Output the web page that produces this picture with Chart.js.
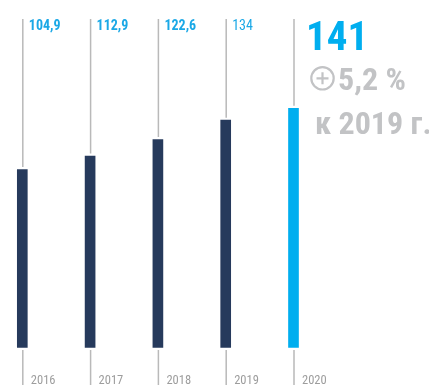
<!DOCTYPE html>
<html>
<head>
<meta charset="utf-8">
<script src="https://cdn.jsdelivr.net/npm/chart.js@4"></script>
<style>
  html, body { margin: 0; padding: 0; background: #fff; }
  #wrap { width: 429px; height: 385px; position: relative; }
</style>
</head>
<body>
<div id="wrap"><canvas id="c" width="429" height="385"></canvas></div>
<script>
// Data
const years = ['2016', '2017', '2018', '2019', '2020'];
const values = [104.9, 112.9, 122.6, 134, 141];
const valueLabels = ['104,9', '112,9', '122,6', '134', '141'];
const headline = '141';
const changeLabel = '5,2 %';
const compareLabel = 'к 2019 г.';

// Styles
const NAVY = '#263a5c';
const CYAN = '#00aeef';
const LABEL_CYAN = '#1aa8e6';
const GUIDE = '#b9b9b9';
const YEAR_GRAY = '#9d9d9d';
const BIG_GRAY = '#c2c3c5';
const FONT = '"Liberation Sans Narrow", "Roboto Condensed", "Liberation Sans", sans-serif';
const barColors = values.map((v, i) => i === values.length - 1 ? CYAN : NAVY);
const labelWeights = ['bold', 'bold', 'bold', 'normal', 'bold'];

// Thin guide lines running above and below each bar
const guides = {
  id: 'guides',
  beforeDatasetsDraw(chart) {
    const { ctx, scales: { x, y } } = chart;
    const meta = chart.getDatasetMeta(0);
    ctx.save();
    ctx.strokeStyle = GUIDE;
    ctx.lineWidth = 1.5;
    meta.data.forEach((bar, i) => {
      const lx = bar.x + 0.5;
      const top = y.getPixelForValue(values[i]);
      const base = y.getPixelForValue(0);
      ctx.beginPath();
      ctx.moveTo(lx, 19);
      ctx.lineTo(lx, top - 2.5);
      ctx.moveTo(lx, base + 2.5);
      ctx.lineTo(lx, chart.height);
      ctx.stroke();
    });
    ctx.restore();
  },
  afterDraw(chart) {
    const { ctx } = chart;
    const meta = chart.getDatasetMeta(0);
    ctx.save();
    ctx.textBaseline = 'alphabetic';
    ctx.textAlign = 'left';
    meta.data.forEach((bar, i) => {
      const lx = bar.x + 0.5;
      ctx.fillStyle = LABEL_CYAN;
      ctx.font = labelWeights[i] + ' 14px ' + FONT;
      if (i < values.length - 1) ctx.fillText(valueLabels[i], lx + 6, 30);
      ctx.fillStyle = YEAR_GRAY;
      ctx.font = '12.5px ' + FONT;
      ctx.fillText(years[i], lx + 8, 383.5);
    });

    // Headline block for the latest year
    ctx.fillStyle = CYAN;
    ctx.font = 'bold 41px ' + FONT;
    ctx.fillText(headline, 306, 49.5);

    ctx.strokeStyle = BIG_GRAY;
    ctx.lineWidth = 2.2;
    ctx.beginPath();
    ctx.arc(322.5, 78.3, 11.2, 0, Math.PI * 2);
    ctx.moveTo(316.5, 78.3); ctx.lineTo(328.5, 78.3);
    ctx.moveTo(322.5, 72.3); ctx.lineTo(322.5, 84.3);
    ctx.stroke();

    ctx.fillStyle = BIG_GRAY;
    ctx.font = 'bold 32px ' + FONT;
    ctx.fillText(changeLabel, 338, 90);
    ctx.fillText(compareLabel, 315, 134);
    ctx.restore();
  }
};

new Chart(document.getElementById('c'), {
  type: 'bar',
  data: {
    labels: years,
    datasets: [{
      data: values,
      backgroundColor: barColors,
      barThickness: 10,
      borderWidth: 0,
      clip: false
    }]
  },
  options: {
    responsive: false,
    animation: false,
    events: [],
    layout: { padding: { left: 22.3, right: 135.5, top: 8.2, bottom: 37.5 } },
    plugins: { legend: { display: false }, tooltip: { enabled: false } },
    scales: {
      x: { type: 'category', display: false, offset: false },
      y: { display: false, min: 0, max: 200 }
    }
  },
  plugins: [guides]
});
</script>
</body>
</html>
